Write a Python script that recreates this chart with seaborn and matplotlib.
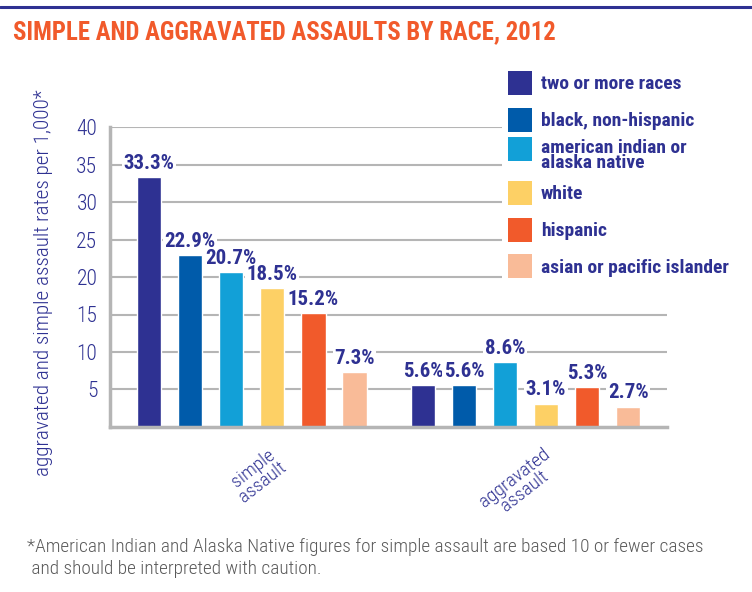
import seaborn as sns
import matplotlib.pyplot as plt
from matplotlib.lines import Line2D
import pandas as pd

groups = ["simple\nassault", "aggravated\nassault"]
races = ["two or more races", "black, non-hispanic",
         "american indian or\nalaska native", "white", "hispanic",
         "asian or pacific islander"]
simple_rates = [33.3, 22.9, 20.7, 18.5, 15.2, 7.3]
aggravated_rates = [5.6, 5.6, 8.6, 3.1, 5.3, 2.7]
colors = ["#2e3192", "#005baa", "#12a0d7", "#fdd065", "#f15a2b", "#f9bb98"]
yticks = [5, 10, 15, 20, 25, 30, 35, 40]

navy = "#2e3192"
orange = "#f15a2b"
grey = "#b5b5b5"

rows = []
for race, s, a in zip(races, simple_rates, aggravated_rates):
    rows.append({"type": groups[0], "race": race, "rate": s})
    rows.append({"type": groups[1], "race": race, "rate": a})
df = pd.DataFrame(rows)

sns.set_style("white")
plt.rcParams["font.family"] = ["Roboto Condensed", "Liberation Sans Narrow", "DejaVu Sans"]

fig = plt.figure(figsize=(7.52, 5.92), dpi=100)
ax = fig.add_axes([0.146, 0.279, 0.741, 0.506])

sns.barplot(data=df, x="type", y="rate", hue="race", order=groups,
            hue_order=races, palette=colors, saturation=1, width=0.9,
            gap=0.41, legend=False, ax=ax)

ax.set_ylim(0, 40)
ax.set_xlim(-0.519, 1.517)
ax.set_yticks(yticks)
ax.yaxis.grid(True, color=grey, lw=1.5)
ax.set_axisbelow(True)
ax.tick_params(axis="y", length=0, pad=9, labelsize=15.5, labelcolor=navy)
for t in ax.get_yticklabels():
    t.set_fontweight("light")
ax.set_xticks([0.5])
ax.set_xticklabels([""])
ax.tick_params(axis="x", length=7, width=1.2, color=grey, direction="out")
for side in ["top", "right"]:
    ax.spines[side].set_visible(False)
for side in ["left", "bottom"]:
    ax.spines[side].set_color(grey)
    ax.spines[side].set_linewidth(2.5)
ax.set_xlabel("")
ax.set_ylabel("aggravated and simple assault rates per 1,000*", color=navy,
              fontsize=15.2, fontweight="light")
ax.yaxis.set_label_coords(-0.102, 0.48)

# group names, rotated under each group
for i, g in enumerate(groups):
    ax.text(i + 0.14, -2.4, g, rotation=38, ha="right", va="top", color=navy,
            fontsize=14, fontweight="light", multialignment="center",
            linespacing=0.9)

# value labels
for cont in ax.containers:
    ax.bar_label(cont, labels=[f"{v:.1f}%" for v in cont.datavalues],
                 padding=3, color=navy, fontsize=15, fontweight="bold",
                 bbox=dict(facecolor="white", edgecolor="none", pad=1))

handles = [Line2D([], [], marker="s", markersize=17.3, color=c,
                  markeredgewidth=0, linestyle="none") for c in colors]
leg = ax.legend(handles, races, loc="upper left",
                bbox_to_anchor=(502 / 752, 1 - 56 / 592),
                bbox_transform=fig.transFigure, frameon=True, fontsize=14,
                handlelength=1.25, handleheight=3.1, labelspacing=-0.375,
                handletextpad=0.45, borderpad=0.3, borderaxespad=0)
leg.get_frame().set_facecolor("white")
leg.get_frame().set_edgecolor("none")
leg.get_frame().set_alpha(1)
for t, h in zip(leg.get_texts(), leg.legend_handles):
    t.set_color(navy)
    t.set_fontweight("bold")
    t.set_linespacing(0.8)
    # one-line labels: bring the square down to the middle of the text
    if "\n" not in t.get_text():
        h.set_ydata(h.get_ydata() - 5.3)

fig.text(0.017, 1 - 32 / 592, "SIMPLE AND AGGRAVATED ASSAULTS BY RACE, 2012",
         color=orange, fontsize=17.8, fontweight="bold", va="center")
fig.add_artist(plt.Line2D([0, 1], [1 - 7 / 592, 1 - 7 / 592],
                          color=navy, lw=2.2, transform=fig.transFigure))
fig.text(0.036, 1 - 558 / 592,
         "*American Indian and Alaska Native figures for simple assault are based 10 or fewer cases\n"
         " and should be interpreted with caution.",
         color="#5a5a5a", fontsize=13.9, fontweight="light", va="center",
         linespacing=1.35)

plt.savefig("out.png", dpi=100)
